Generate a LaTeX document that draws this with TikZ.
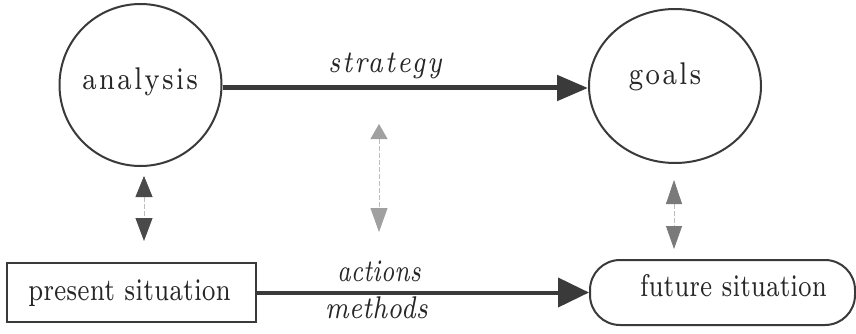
\documentclass[tikz,border=0pt]{standalone}
\usepackage{fontspec}
\usepackage{graphicx}
\setmainfont{lmroman7-regular.otf}[ItalicFont=lmroman7-italic.otf, BoldFont=lmroman7-bold.otf]
\newfontfamily\spacedfont{lmroman7-regular.otf}[ItalicFont=lmroman7-italic.otf, BoldFont=lmroman7-bold.otf, LetterSpace=8]
\usetikzlibrary{arrows.meta,shapes.geometric}
\definecolor{ink}{HTML}{3A3A3A}
\definecolor{textink}{HTML}{262626}
\definecolor{darkhead}{HTML}{4A4A4A}
\definecolor{midhead}{HTML}{7A7A7A}
\definecolor{lighthead}{HTML}{A0A0A0}
\definecolor{dashgray}{HTML}{BDBDBD}
\newcommand{\fitw}[2]{\resizebox{#1}{\height}{#2}}
\begin{document}
\begin{tikzpicture}[x=1pt,y=-1pt,
  every node/.style={inner sep=0pt},
  label/.style={font=\fontsize{31.4}{36}\selectfont, text=textink, anchor=base},
  shapeline/.style={draw=ink, line width=2pt},
  mainarrow/.style={draw=ink, line width=5pt, -{Triangle[length=31pt,width=25pt]}},
  lowarrow/.style={draw=ink, line width=4pt, -{Triangle[length=31pt,width=29pt]}},
  linkline/.style={draw=dashgray, line width=0.8pt, dash pattern=on 5pt off 2pt}
]
\useasboundingbox (0,0) rectangle (856,334);
\fill[white] (0,0) rectangle (856,334);

% shapes
\node[shapeline, circle, minimum size=162pt] (analysis) at (140.5,85) {};
\node[shapeline, ellipse, minimum width=172pt, minimum height=154pt] (goals) at (675,86) {};
\node[draw=ink, line width=2.5pt, rectangle, minimum width=249pt, minimum height=59pt] (present) at (131.5,292.5) {};
\node[shapeline, rectangle, rounded corners=30pt, minimum width=265pt, minimum height=65pt] (future) at (722.5,292.5) {};

% labels (anchored on their baselines)
\node[label] (analysistext) at (140,89.5) {\fitw{116pt}{\spacedfont analysis}};
\node[label] (goalstext) at (665,84.5) {\fitw{73pt}{\spacedfont goals}};
\node[label] (presenttext) at (129.5,300.5) {\fitw{203pt}{present situation}};
\node[label] (futuretext) at (733.5,296.5) {\fitw{187pt}{future situation}};
\node[label] (strategytext) at (385,73) {\fitw{114pt}{\spacedfont\itshape strategy}};
\node[label] (actionstext) at (379,281) {\fitw{84pt}{\itshape actions}};
\node[label] (methodstext) at (376.5,318.5) {\fitw{103pt}{\itshape methods}};

% main arrows
\coordinate (sy) at (0,88);
\draw[mainarrow] (analysis.east |- sy) -- (goals.west |- sy);
\draw[lowarrow] (present.east) -- (future.west);

% vertical double arrows
\coordinate (l1) at (144,176);
\coordinate (l2) at (144,241);
\coordinate (m1) at (379,124);
\coordinate (m2) at (379,232);
\coordinate (r1) at (674,180);
\coordinate (r2) at (674,249);

\draw[linkline, {Triangle[length=21pt,width=17pt,color=darkhead]}-{Triangle[length=23pt,width=17pt,color=darkhead]}] (l1) -- (l2);
\draw[linkline, {Triangle[length=15pt,width=17pt,color=lighthead]}-{Triangle[length=24pt,width=17pt,color=lighthead]}] (m1) -- (m2);
\draw[linkline, {Triangle[length=24pt,width=16pt,color=midhead]}-{Triangle[length=23pt,width=16pt,color=midhead]}] (r1) -- (r2);
\end{tikzpicture}
\end{document}
